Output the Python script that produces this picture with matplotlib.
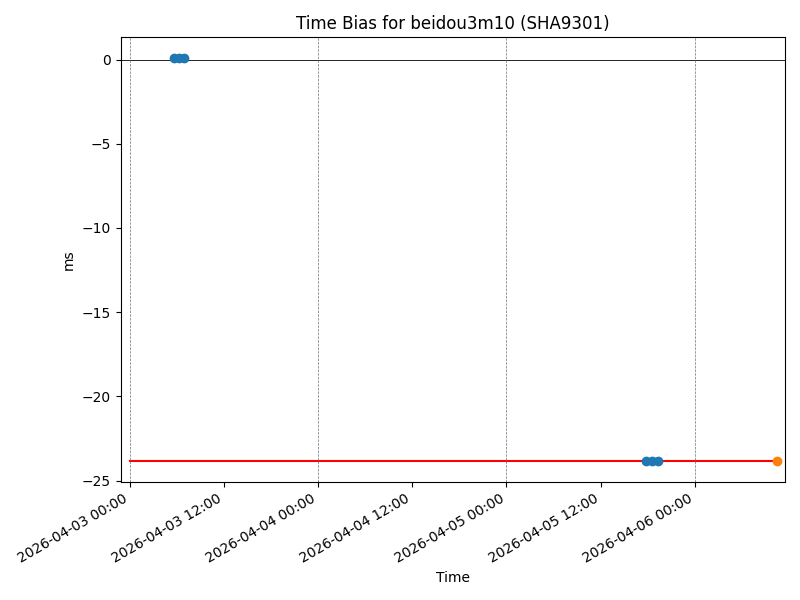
import numpy as np
import pandas as pd
import matplotlib
matplotlib.use("Agg")
import matplotlib.pyplot as plt
import matplotlib.dates as mdates

# readings (ms)
times_a = pd.to_datetime(["2026-04-03 05:35", "2026-04-03 06:15", "2026-04-03 06:55"])
bias_a = [0.1, 0.1, 0.1]
times_b = pd.to_datetime(["2026-04-05 17:50", "2026-04-05 18:30", "2026-04-05 19:15"])
bias_b = [-23.85, -23.85, -23.85]
times_last = pd.to_datetime(["2026-04-06 10:30"])
bias_last = [-23.85]

fit_t = pd.to_datetime(["2026-04-03 00:00", "2026-04-06 10:30"])
fit_v = [-23.85, -23.85]

midnights = pd.date_range("2026-04-03", "2026-04-06", freq="D")

fig, ax = plt.subplots(figsize=(8, 6))
ax.scatter(times_a, bias_a, color="C0", s=36, zorder=3)
ax.scatter(times_b, bias_b, color="C0", s=36, zorder=3)
ax.scatter(times_last, bias_last, color="C1", s=36, zorder=3)
ax.plot(fit_t, fit_v, color="red", lw=1.5)
ax.axhline(0, color="black", lw=0.6)
for d in midnights:
    ax.axvline(d, color="#66727f", ls="--", lw=0.5)

ax.set_xlim(pd.Timestamp("2026-04-02 22:50"), pd.Timestamp("2026-04-06 11:30"))
ax.set_ylim(-25.06, 1.32)
ax.xaxis.set_major_locator(mdates.HourLocator(byhour=[0, 12]))
ax.xaxis.set_major_formatter(mdates.DateFormatter("%Y-%m-%d %H:%M"))
fig.autofmt_xdate()

ax.set_title("Time Bias for beidou3m10 (SHA9301)")
ax.set_xlabel("Time")
ax.set_ylabel("ms")
fig.tight_layout()
fig.savefig("out.png", dpi=100)
